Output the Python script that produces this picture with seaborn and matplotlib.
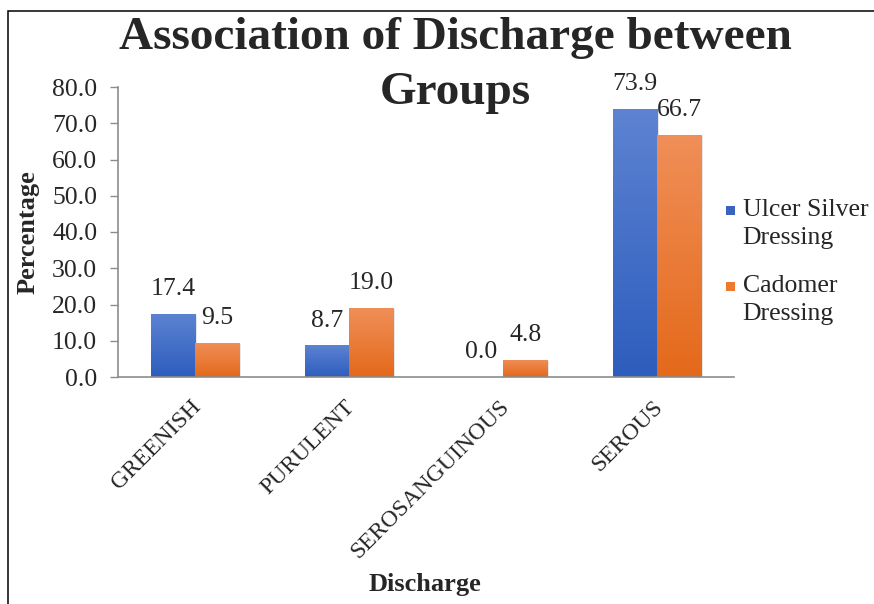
import numpy as np
import pandas as pd
import matplotlib
matplotlib.use("Agg")
import matplotlib.pyplot as plt
import matplotlib.transforms as mtransforms
import seaborn as sns
from matplotlib.patches import Rectangle
from matplotlib.legend_handler import HandlerPatch

categories = ["GREENISH", "PURULENT", "SEROSANGUINOUS", "SEROUS"]
ulcer_silver = [17.4, 8.7, 0.0, 73.9]
cadomer = [9.5, 19.0, 4.8, 66.7]
groups = ["Ulcer Silver\nDressing", "Cadomer\nDressing"]
yticks = [0, 10, 20, 30, 40, 50, 60, 70, 80]

df = pd.DataFrame({
    "Discharge": categories * 2,
    "Percentage": ulcer_silver + cadomer,
    "Group": [groups[0]] * len(categories) + [groups[1]] * len(categories),
})

sns.set_style("white")
plt.rcParams["font.family"] = ["Liberation Serif", "DejaVu Serif"]

BLUE_TOP, BLUE_BOT = "#5D83D2", "#2D5DBD"
ORG_TOP, ORG_BOT = "#F08F58", "#E4691A"

fig = plt.figure(figsize=(8.74, 6.04), dpi=100)
ax = fig.add_axes([118 / 874, 1 - 377 / 604, 616 / 874, 290 / 604])

sns.barplot(data=df, x="Discharge", y="Percentage", hue="Group",
            palette=["#3A62C0", "#EE7A30"], width=0.575, gap=0,
            saturation=1, ax=ax, legend=False)

ax.set_ylim(0, 80)
ax.set_xlim(-0.5, 3.5)
ax.set_yticks(yticks)
ax.set_yticklabels([f"{v:.1f}" for v in yticks], fontsize=18.5)
ax.set_xticks(range(len(categories)))
ax.set_xticklabels(categories, fontsize=17, rotation=45, ha="right",
                   va="center", rotation_mode="anchor")
ax.tick_params(axis="y", length=6, width=1, color="#8c8c8c", pad=9, left=True)
ax.tick_params(axis="x", length=0, pad=19)
shift = mtransforms.ScaledTranslation(3 / 100, 0, fig.dpi_scale_trans)
for lbl in ax.get_xticklabels():
    lbl.set_transform(lbl.get_transform() + shift)

for s in ["top", "right"]:
    ax.spines[s].set_visible(False)
for s in ["left", "bottom"]:
    ax.spines[s].set_color("#8c8c8c")
    ax.spines[s].set_linewidth(1.2)

ax.set_ylabel("Percentage", fontsize=19, fontweight="bold")
ax.set_xlabel("Discharge", fontsize=19, fontweight="bold")
ax.yaxis.set_label_coords(-0.146, 0.5)
ax.yaxis.label.set_va("center")
ax.xaxis.set_label_coords(0.498, -0.717)
ax.xaxis.label.set_va("center")

# gradient fill on the seaborn bars
tops = {0: BLUE_TOP, 1: ORG_TOP}
bots = {0: BLUE_BOT, 1: ORG_BOT}
for i, cont in enumerate(ax.containers):
    cmap = matplotlib.colors.LinearSegmentedColormap.from_list(
        f"g{i}", [bots[i], tops[i]])
    for p in cont.patches:
        x0, y0 = p.get_x(), p.get_y()
        w, h = p.get_width(), p.get_height()
        if h <= 0:
            continue
        shadow = Rectangle((x0 + 0.012, y0), w, h - 0.3, facecolor="#000000",
                           alpha=0.12, edgecolor="none", zorder=1.5)
        ax.add_patch(shadow)
        grad = np.linspace(0, 1, 256).reshape(-1, 1)
        im = ax.imshow(grad, extent=[x0, x0 + w, y0, y0 + h], origin="lower",
                       cmap=cmap, aspect="auto", zorder=2.5)
        im.set_clip_path(p)
        p.set_zorder(2)
    ax.bar_label(cont, labels=[f"{v:.1f}" for v in cont.datavalues],
                 padding=10, fontsize=18.5, zorder=4)

ax.set_xlim(-0.5, 3.5)
ax.set_ylim(0, 80)

# legend
class TopHandler(HandlerPatch):
    def create_artists(self, legend, orig_handle, xdescent, ydescent,
                       width, height, fontsize, trans):
        s = 0.34 * fontsize
        r = Rectangle((width - s - xdescent, -ydescent + 0.68 * fontsize),
                      s, s, facecolor=orig_handle.get_facecolor(),
                      edgecolor="none", transform=trans)
        return [r]

handles = [Rectangle((0, 0), 1, 1, facecolor="#3A62C0"),
           Rectangle((0, 0), 1, 1, facecolor="#EE7A30")]
leg = fig.legend(handles, groups, loc="center left",
                 bbox_to_anchor=(722 / 874, 1 - 262 / 604), frameon=False,
                 fontsize=18.5, handlelength=0.5, handletextpad=0.3,
                 labelspacing=1.0, borderaxespad=0, borderpad=0,
                 handler_map={Rectangle: TopHandler()})
for t in leg.get_texts():
    t.set_linespacing(1.38)

fig.suptitle("Association of Discharge between\nGroups", x=455 / 874,
             y=1 - 17 / 604, fontsize=34, fontweight="bold",
             linespacing=1.42, va="top")

# outer frame (cut at right and bottom)
fig.add_artist(Rectangle((8 / 874, -0.1), 1.2, 1 - 11 / 604 + 0.1,
                         transform=fig.transFigure, fill=False,
                         edgecolor="black", linewidth=1.1, clip_on=False))

fig.savefig("out.png", dpi=100)
